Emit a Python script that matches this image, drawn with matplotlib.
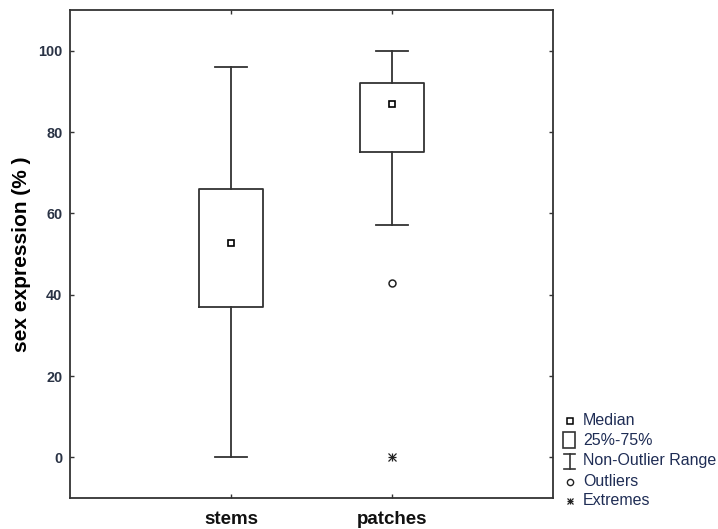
import matplotlib
matplotlib.use("Agg")
import matplotlib.pyplot as plt
from matplotlib.lines import Line2D
from matplotlib.patches import Rectangle

plt.rcParams['font.family'] = ['Liberation Sans', 'DejaVu Sans']

# Summary statistics per group
categories = ['stems', 'patches']
medians = [52.7, 86.8]
q1 = [36.9, 75.2]
q3 = [66.1, 92.1]
whislo = [0.0, 57.2]
whishi = [96.0, 100.0]
outliers = [[], [42.9]]
extremes = [[], [0.0]]

yticks = [0, 20, 40, 60, 80, 100]
legend_labels = ['Median', '25%-75%', 'Non-Outlier Range', 'Outliers', 'Extremes']

W, H = 718, 529
fig = plt.figure(figsize=(W / 100, H / 100), dpi=100)
ax = fig.add_axes([70 / W, 1 - 498 / H, (553 - 70) / W, (498 - 10) / H])

lc = '#333333'
positions = list(range(1, len(categories) + 1))
stats = [dict(med=m, q1=a, q3=b, whislo=lo, whishi=hi, fliers=[], label=c)
         for m, a, b, lo, hi, c in zip(medians, q1, q3, whislo, whishi, categories)]
ax.bxp(stats, positions=positions, widths=0.4, showfliers=False,
       boxprops=dict(color=lc, linewidth=1.3),
       whiskerprops=dict(color=lc, linewidth=1.3),
       capprops=dict(color=lc, linewidth=1.3),
       medianprops=dict(visible=False), capwidths=0.2)

ax.plot(positions, medians, linestyle='none', marker='s', markersize=5,
        markerfacecolor='white', markeredgecolor='black', markeredgewidth=1.2)
for p, vals in zip(positions, outliers):
    if vals:
        ax.plot([p] * len(vals), vals, linestyle='none', marker='o', markersize=5,
                markerfacecolor='white', markeredgecolor='#222222', markeredgewidth=1.1)
for p, vals in zip(positions, extremes):
    if vals:
        for mk in ['+', 'x']:
            ax.plot([p] * len(vals), vals, linestyle='none', marker=mk, markersize=5.5,
                    color='#222222', markeredgewidth=0.9)

ax.set_xlim(0, 3)
ax.set_ylim(-10, 110)
ax.set_yticks(yticks)
ax.set_xticks(positions)
ax.set_xticklabels(categories, fontsize=13.5, fontweight='bold', color='#111111')
ax.set_yticklabels([str(t) for t in yticks], fontsize=10.4, fontweight='bold', color='#2a3345')
ax.tick_params(direction='in', length=3, width=1, color=lc, top=True, right=True)
ax.tick_params(axis='x', pad=9)
ax.tick_params(axis='y', pad=5.5)
for s in ax.spines.values():
    s.set_color(lc)
    s.set_linewidth(1.3)
ax.set_ylabel('sex expression (% )', fontsize=15, fontweight='bold', labelpad=5)

# Key, drawn in figure pixel space
def fx(x):
    return x / W

def fy(y):
    return 1 - y / H

mx = 569.5
fig.add_artist(Line2D([fx(mx)], [fy(420.5)], marker='s', markersize=5, linestyle='none',
                      markerfacecolor='white', markeredgecolor='black', markeredgewidth=1.1))
fig.add_artist(Rectangle((fx(563), fy(448)), fx(575) - fx(563), fy(432) - fy(448),
                         facecolor='white', edgecolor=lc, linewidth=1.2))
fig.add_artist(Line2D([fx(mx), fx(mx)], [fy(453.5), fy(468.5)], color=lc, linewidth=1.2))
fig.add_artist(Line2D([fx(564), fx(575)], [fy(453.5), fy(453.5)], color=lc, linewidth=1.2))
fig.add_artist(Line2D([fx(564), fx(575)], [fy(468.5), fy(468.5)], color=lc, linewidth=1.2))
fig.add_artist(Line2D([fx(mx)], [fy(481.5)], marker='o', markersize=4.5, linestyle='none',
                      markerfacecolor='white', markeredgecolor='#222222', markeredgewidth=1.0))
for mk in ['+', 'x']:
    fig.add_artist(Line2D([fx(mx)], [fy(500.5)], marker=mk, markersize=5, linestyle='none',
                          color='#222222', markeredgewidth=0.9))

label_y = [420.5, 440.5, 460.5, 481.5, 500.5]
for lab, y in zip(legend_labels, label_y):
    fig.text(fx(583), fy(y), lab, fontsize=11.5, color='#1f2d55', va='center', ha='left')

fig.savefig('out.png', dpi=100)
